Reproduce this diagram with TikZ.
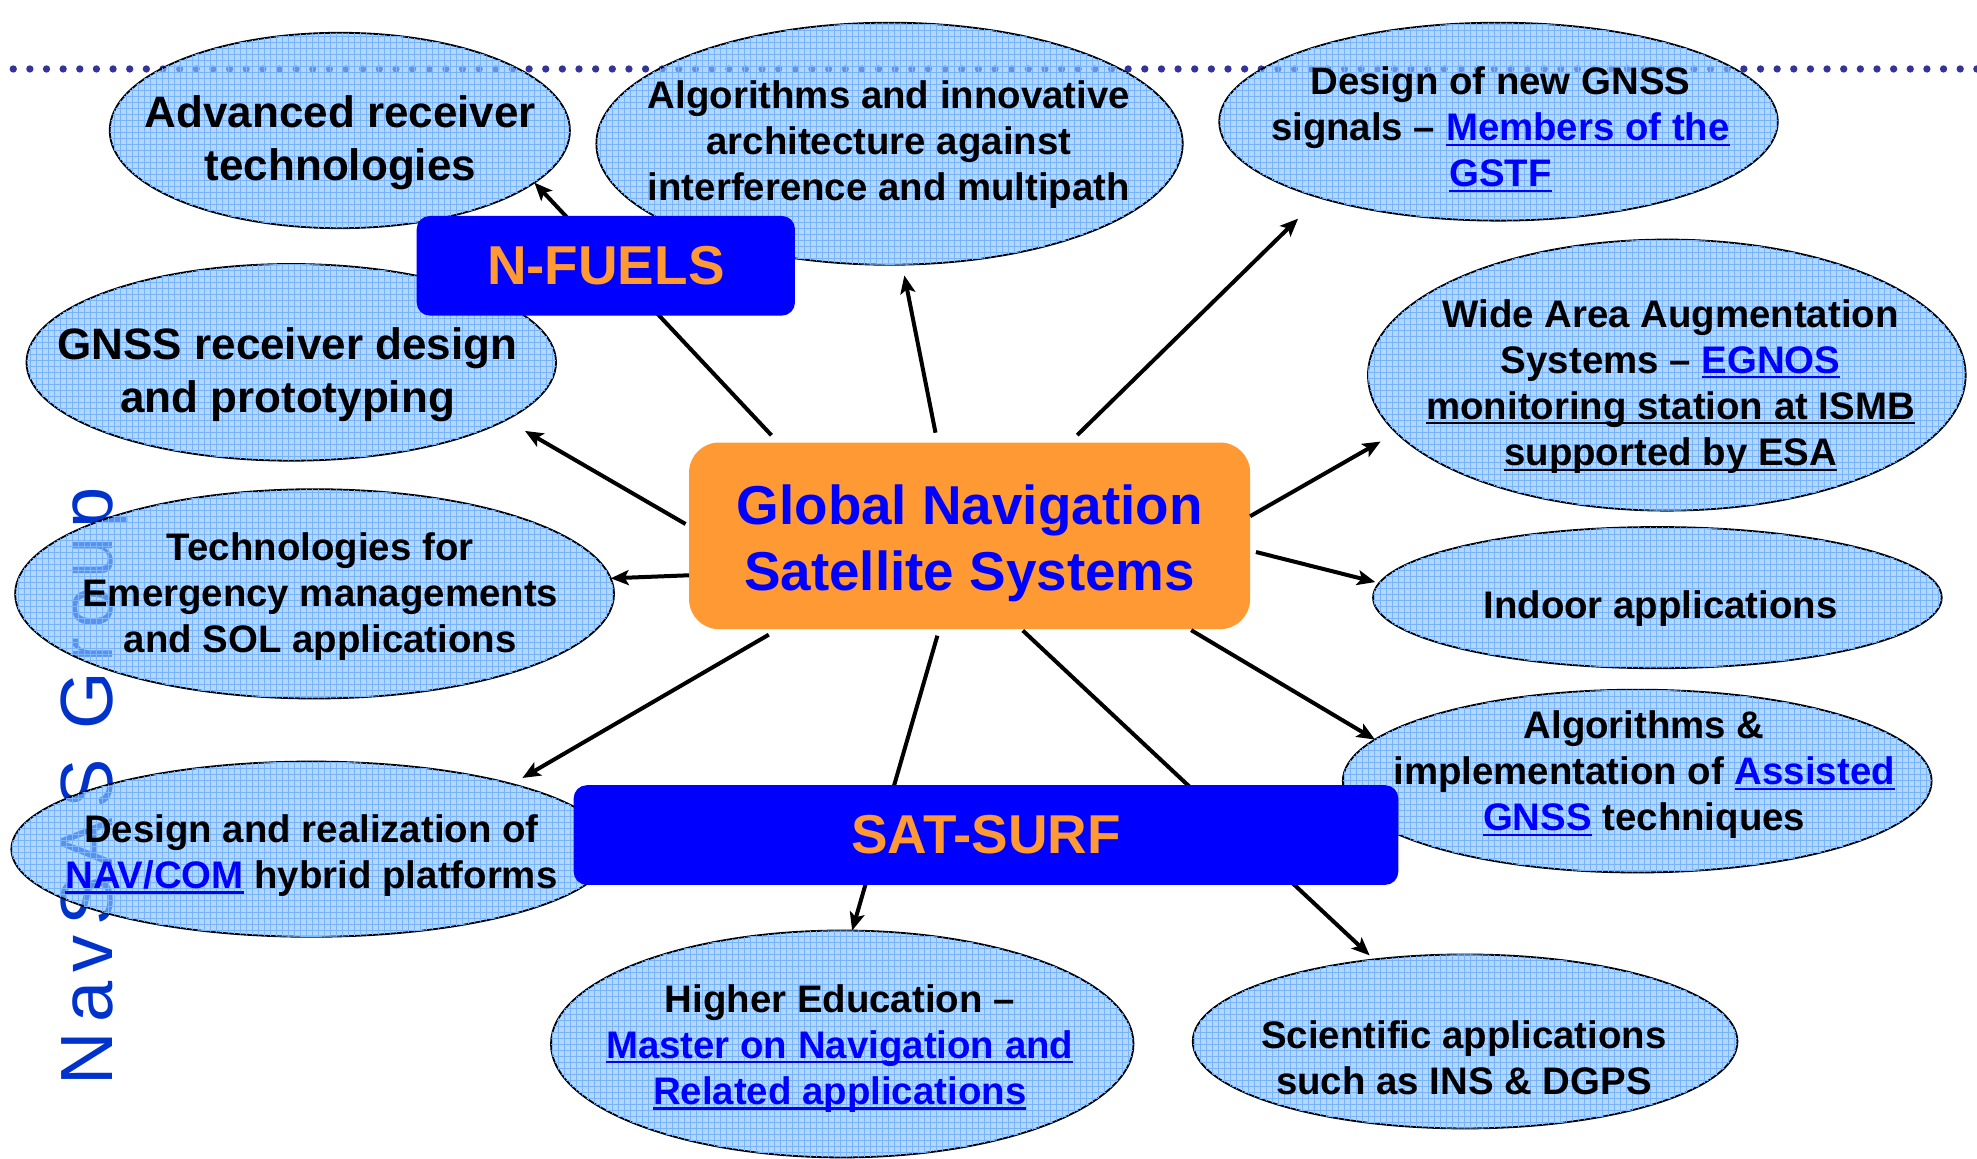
\documentclass[tikz,border=0pt]{standalone}
\usepackage{fontspec}
\setmainfont{Liberation Sans}
\usepackage{xcolor}
\usetikzlibrary{shapes.geometric, arrows.meta, patterns}

\definecolor{hubor}{RGB}{255,153,51}
\definecolor{projblue}{RGB}{0,0,255}
\definecolor{bubfill}{RGB}{140,195,255}
\definecolor{bubgrid}{RGB}{120,180,250}
\definecolor{dotblue}{RGB}{51,51,153}
\definecolor{groupblue}{RGB}{0,51,204}
\definecolor{linkblue}{RGB}{0,0,255}

\newlength{\pxl}
\setlength{\pxl}{0.6304pt}

\newcommand{\ulin}[1]{\leavevmode\setbox0\hbox{#1}\rlap{\rule[-0.13em]{\wd0}{0.055em}}\box0}
\newcommand{\lnk}[1]{{\color{linkblue}\ulin{#1}}}

\begin{document}
\begin{tikzpicture}[
    x=0.6304pt, y=-0.6304pt,
    >={Stealth[length=9pt, width=7.5pt, inset=2pt]},
    bubble/.style={ellipse, draw, line width=0.9pt, fill=bubfill, fill opacity=0.65, inner sep=0pt, outer sep=0pt, postaction={pattern=grid, pattern color=bubgrid}},
    bubtext/.style={align=center, inner sep=0pt, font=\fontsize{19.2}{23.1}\selectfont\bfseries},
    bigtext/.style={bubtext, font=\fontsize{22}{26.5}\selectfont\bfseries},
    hub/.style={rectangle, rounded corners=15pt, fill=hubor, inner sep=0pt, outer sep=0pt},
    hubtext/.style={text=projblue, align=center, inner sep=0pt, font=\fontsize{27.4}{33.4}\selectfont\bfseries},
    project/.style={rectangle, rounded corners=6.5pt, fill=projblue, text=hubor, inner sep=0pt, outer sep=0pt, font=\fontsize{27.4}{33.4}\selectfont\bfseries},
    arr/.style={->, line width=2pt}
]

% Canvas
\fill[white] (0,0) rectangle (1568,919);
\useasboundingbox (0,0) rectangle (1568,919);

% Dotted rule and group name (behind the bubbles)
\draw[dotblue, line width=3.66pt, line cap=round, dash pattern=on 0pt off 8.32pt] (10.5,54.7) -- (1568,54.7);
\node[rotate=90, anchor=base, inner sep=0pt, text=groupblue, font=\fontsize{37}{40}\selectfont\addfontfeature{LetterSpace=12.5}] (navsas) at (89.6,623.4) {NavSAS Group};

% Bubbles
\node[bubble, minimum width=365\pxl, minimum height=155\pxl] (adv) at (269.5,103.5) {};
\node[bubble, minimum width=420\pxl, minimum height=156\pxl] (rcv) at (231,287.4) {};
\node[bubble, minimum width=475\pxl, minimum height=166\pxl] (emg) at (249.5,471) {};
\node[bubble, minimum width=476\pxl, minimum height=139\pxl] (navcom) at (247,673.5) {};
\node[bubble, minimum width=465\pxl, minimum height=192\pxl] (algo) at (705.5,114) {};
\node[bubble, minimum width=443\pxl, minimum height=157\pxl] (signals) at (1188.5,96.5) {};
\node[bubble, minimum width=474\pxl, minimum height=215\pxl] (waas) at (1322,297.5) {};
\node[bubble, minimum width=451\pxl, minimum height=112\pxl] (indoor) at (1314.5,474) {};
\node[bubble, minimum width=467\pxl, minimum height=145\pxl] (agnss) at (1298.5,619.5) {};
\node[bubble, minimum width=462\pxl, minimum height=180\pxl] (edu) at (668,828) {};
\node[bubble, minimum width=432\pxl, minimum height=138\pxl] (sci) at (1162,826) {};

% Bubble texts
\node[bigtext] (adv-t) at (270,113) {Advanced receiver\\technologies};
\node[bigtext] (rcv-t) at (228,297) {GNSS receiver design\\and prototyping};
\node[bubtext] (emg-t) at (254,473) {Technologies for\\Emergency managements\\and SOL applications};
\node[bubtext] (navcom-t) at (247,678.5) {Design and realization of\\\lnk{NAV/COM} hybrid platforms};
\node[bubtext] (algo-t) at (705,114.5) {Algorithms and innovative\\architecture against\\interference and multipath};
\node[bubtext] (signals-t) at (1190,102.5) {Design of new GNSS\\signals – \lnk{Members of the}\\\lnk{GSTF}};
\node[bubtext] (waas-t) at (1325,306.5) {Wide Area Augmentation\\Systems – \lnk{EGNOS}\\\ulin{monitoring station at ISMB}\\\ulin{supported by ESA}};
\node[bubtext] (indoor-t) at (1317,483) {Indoor applications};
\node[bubtext] (agnss-t) at (1304,614.5) {Algorithms \&\\implementation of \lnk{Assisted}\\\lnk{GNSS} techniques};
\node[bubtext] (edu-t) at (666,831.5) {Higher Education –\\\lnk{Master on Navigation and}\\\lnk{Related applications}};
\node[bubtext] (sci-t) at (1161,839) {Scientific applications\\such as INS \& DGPS};

% Central topic
\node[hub, minimum width=445\pxl, minimum height=148\pxl] (gnss) at (769,425) {};
\node[hubtext] (gnss-t) at (769,431) {Global Navigation\\Satellite Systems};

% Arrows
\draw[arr, shorten <=5pt] (gnss.154) -- (adv.-15);
\draw[arr, shorten <=2pt, shorten >=11pt] (gnss.178) -- (rcv.-15);
\draw[arr] (gnss.188) -- (emg.3);
\draw[arr, shorten <=5.5pt, shorten >=6pt] (gnss.206) -- (navcom.18);
\draw[arr, shorten <=5pt, shorten >=5.5pt] (gnss.109) -- (algo.-84);
\draw[arr, shorten <=5.3pt, shorten >=15pt] (gnss.43) -- (signals.203);
\draw[arr, shorten >=9pt] (gnss.4) -- (waas.192);
\draw[arr, shorten <=3pt, shorten >=2pt] (gnss.-3) -- (indoor.177);
\draw[arr, shorten <=1pt] (gnss.-23) -- (agnss.171);
\draw[arr, shorten <=3.4pt] (gnss.-108) -- (edu.85);
\draw[arr, shorten <=1pt, shorten >=3pt] (gnss.-61) -- (sci.138);

% Projects (on top)
\node[project, minimum width=300\pxl, minimum height=79\pxl] (nfuels) at (480.5,210.8) {N-FUELS};
\node[project, minimum width=654\pxl, minimum height=79\pxl] (satsurf) at (782,662.3) {SAT-SURF};

\end{tikzpicture}
\end{document}
